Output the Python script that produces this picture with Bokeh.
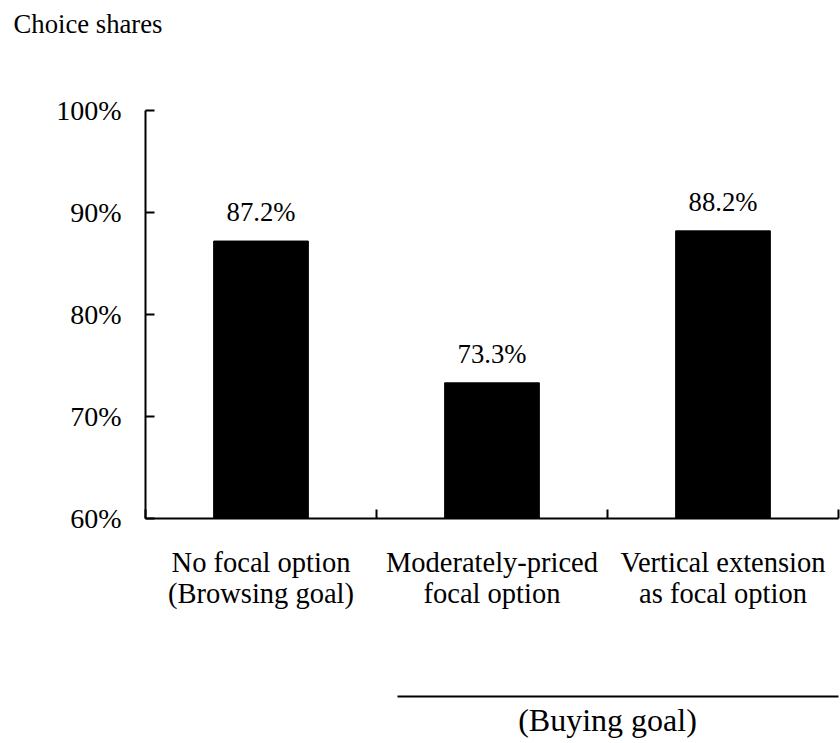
from bokeh.plotting import figure
from bokeh.models import (Range1d, FixedTicker, PrintfTickFormatter, LinearAxis,
                          Title, ColumnDataSource)
from bokeh.core.properties import value
from bokeh.embed import file_html
from bokeh.resources import INLINE

# --- data ---------------------------------------------------------------
title_text = "Choice shares"
cat_line1 = ["No focal option", "Moderately-priced", "Vertical extension"]
cat_line2 = ["(Browsing goal)", "focal option", "as focal option"]
shares = [87.2, 73.3, 88.2]          # percent
y_ticks = [60, 70, 80, 90, 100]
group_label = "(Buying goal)"        # spans the 2nd and 3rd categories

FONT = "Liberation Serif"
n = len(shares)
centers = [i + 0.5 for i in range(n)]
bounds_ticks = list(range(n + 1))

p = figure(width=840, height=743, output_backend="svg", toolbar_location=None,
           x_range=Range1d(0, n), y_range=Range1d(y_ticks[0], y_ticks[-1]),
           x_axis_location=None, y_axis_location=None,
           min_border_left=145, min_border_right=2,
           min_border_top=110, min_border_bottom=225)
p.outline_line_color = None
p.background_fill_color = "white"
p.border_fill_color = "white"
p.xgrid.visible = False
p.ygrid.visible = False


def blank_band(tick_at, depth):
    """An invisible axis used only to reserve `depth` pixels of space."""
    ax = LinearAxis(ticker=FixedTicker(ticks=[tick_at], minor_ticks=[]),
                    major_label_overrides={tick_at: ""})
    ax.axis_line_color = None
    ax.major_tick_line_color = "white"
    ax.minor_tick_line_color = None
    ax.major_tick_in = 0
    ax.major_tick_out = depth
    ax.major_label_standoff = 0
    ax.major_label_text_font_size = "0px"
    return ax


# gap between the frame and the title
p.add_layout(blank_band(float(n), 67), "above")

p.title = Title(text=title_text, align="left", offset=-132, standoff=10,
                text_font=FONT, text_font_size="26.7px",
                text_font_style="normal", text_color="black")

src = ColumnDataSource(dict(x=centers, top=shares,
                            label=[f"{v:.1f}%" for v in shares]))
p.vbar(x="x", top="top", bottom=y_ticks[0], width=0.41, source=src,
       fill_color="black", line_color="black")
p.text(x="x", y="top", text="label", source=src, text_align="center",
       text_baseline="alphabetic", y_offset=-29, text_font=value(FONT),
       text_font_size="26.7px", text_color="black")

# --- y axis -------------------------------------------------------------
yaxis = LinearAxis(ticker=FixedTicker(ticks=y_ticks, minor_ticks=[]),
                   formatter=PrintfTickFormatter(format="%d%%"))
yaxis.axis_line_width = 2
yaxis.major_tick_line_width = 2
yaxis.major_tick_in = 9
yaxis.major_tick_out = 0
yaxis.minor_tick_in = 0
yaxis.minor_tick_out = 0
yaxis.major_label_standoff = 24
yaxis.major_label_text_font = FONT
yaxis.major_label_text_font_size = "28px"
yaxis.major_label_text_color = "black"
p.add_layout(yaxis, "left")

# --- x axes: category boundaries as minor ticks, two label lines -------
def label_axis(lines, size, standoff):
    ax = LinearAxis(ticker=FixedTicker(ticks=centers, minor_ticks=[]),
                    major_label_overrides={c: t for c, t in zip(centers, lines)})
    ax.axis_line_color = None
    ax.major_tick_line_color = None
    ax.major_tick_in = 0
    ax.major_tick_out = 0
    ax.minor_tick_line_color = None
    ax.major_label_standoff = standoff
    ax.major_label_text_font = FONT
    ax.major_label_text_font_size = size
    ax.major_label_text_color = "black"
    return ax

xaxis1 = label_axis(cat_line1, "28.5px", 28)
xaxis1.ticker = FixedTicker(ticks=centers, minor_ticks=bounds_ticks)
xaxis1.axis_line_color = "black"
xaxis1.axis_line_width = 2
xaxis1.minor_tick_line_color = "black"
xaxis1.minor_tick_line_width = 2
xaxis1.minor_tick_in = 9
xaxis1.minor_tick_out = 0
p.add_layout(xaxis1, "below")

xaxis2 = label_axis(cat_line2, "28.5px", -3)
p.add_layout(xaxis2, "below")

# empty band above the group underline
p.add_layout(blank_band(0.0, 85), "below")

group_axis = LinearAxis(ticker=FixedTicker(ticks=[2.0], minor_ticks=[]),
                        major_label_overrides={2.0: group_label},
                        bounds=(1.09, n))
group_axis.axis_line_color = "black"
group_axis.axis_line_width = 2
group_axis.major_tick_line_color = None
group_axis.major_tick_in = 0
group_axis.major_tick_out = 0
group_axis.minor_tick_line_color = None
group_axis.major_label_standoff = 5
group_axis.major_label_text_font = FONT
group_axis.major_label_text_font_size = "32px"
group_axis.major_label_text_color = "black"
p.add_layout(group_axis, "below")

open("out.html", "w").write(file_html(p, INLINE))
